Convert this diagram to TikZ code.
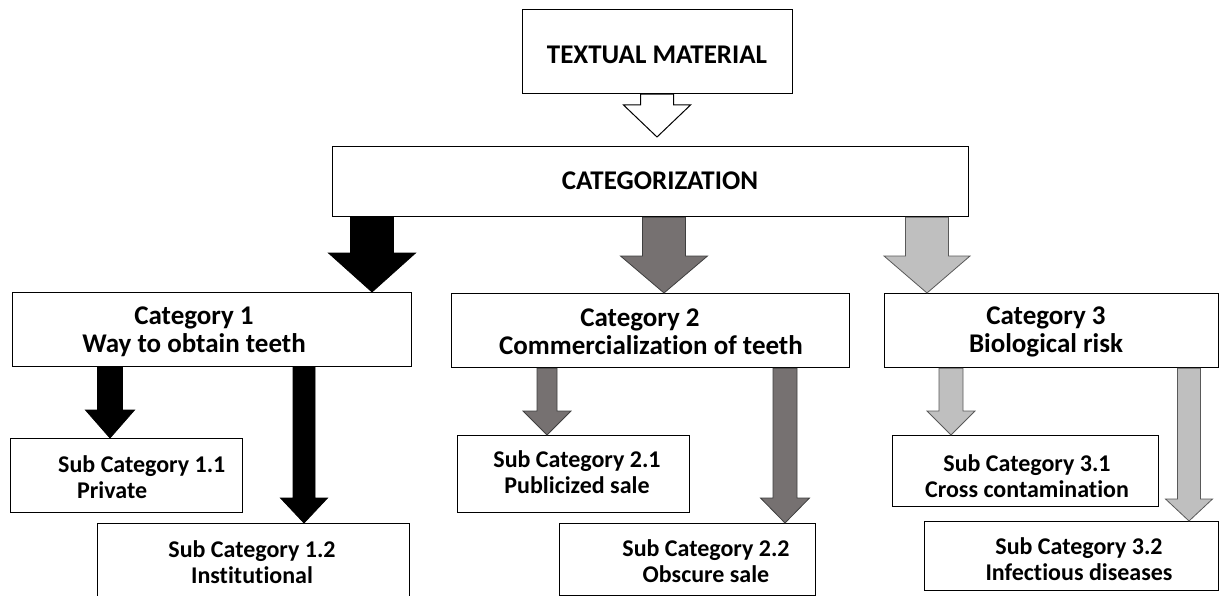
\documentclass[tikz,border=0pt]{standalone}
\usepackage{fontspec}
\setmainfont{Carlito}[Ligatures=NoCommon]
\usetikzlibrary{calc}
\definecolor{dgray}{HTML}{767171}
\definecolor{dgrayline}{HTML}{3F3F3F}
\definecolor{lgray}{HTML}{BFBFBF}
\definecolor{lgrayline}{HTML}{595959}
% block arrow: #1 style, #2 x (pt), #3 source point, #4 tip point, #5 shaft half, #6 head half, #7 head length
\newcommand{\blockarr}[7]{%
  \draw[#1] let \p1=(#2,0 |- #3), \p2=(#2,0 |- #4) in
    (\x1-#5pt,\y1) -- (\x1-#5pt,\y2+#7pt) -- (\x1-#6pt,\y2+#7pt) -- (\x2,\y2)
    -- (\x1+#6pt,\y2+#7pt) -- (\x1+#5pt,\y2+#7pt) -- (\x1+#5pt,\y1) -- cycle;}
\tikzset{
  box/.style={draw=black, line width=1.2pt, fill=white, rectangle, inner sep=0pt, anchor=north west},
  toptxt/.style={font=\bfseries\fontsize{27}{30}\selectfont, inner sep=0pt},
  cattxt/.style={font=\bfseries\fontsize{27}{28}\selectfont, align=center, inner sep=0pt},
  subtxt/.style={font=\bfseries\fontsize{24}{26.5}\selectfont, align=center, inner sep=0pt},
  blackarr/.style={fill=black, draw=black, line width=0.8pt, line join=miter},
  darkarr/.style={fill=dgray, draw=dgrayline, line width=0.8pt, line join=miter},
  lightarr/.style={fill=lgray, draw=lgrayline, line width=0.8pt, line join=miter},
  hollowarr/.style={fill=white, draw=black, line width=1pt, line join=miter},
}
\begin{document}
\begin{tikzpicture}[x=1pt, y=-1pt]
\useasboundingbox (0,0) rectangle (1220,596);
\begin{scope}
\clip (0,0) rectangle (1220,596);
% boxes
\node[box, minimum width=270pt, minimum height=84pt] (tm) at (522,9) {};
\node[box, minimum width=636pt, minimum height=70pt] (cz) at (332,146) {};
\node[box, minimum width=399pt, minimum height=74pt] (c1) at (12,292) {};
\node[box, minimum width=398pt, minimum height=74pt] (c2) at (451,293) {};
\node[box, minimum width=334pt, minimum height=74pt] (c3) at (884,293) {};
\node[box, minimum width=232pt, minimum height=74pt] (s11) at (10,438) {};
\node[box, minimum width=312pt, minimum height=90pt] (s12) at (97,523) {};
\node[box, minimum width=232pt, minimum height=77pt] (s21) at (457,435) {};
\node[box, minimum width=256pt, minimum height=72pt] (s22) at (559,523) {};
\node[box, minimum width=266pt, minimum height=71pt] (s31) at (892,435) {};
\node[box, minimum width=294pt, minimum height=69pt] (s32) at (924,521) {};
% texts
\node[toptxt] (tmt) at (657,55) {TEXTUAL MATERIAL};
\node[toptxt] (czt) at (660,181) {CATEGORIZATION};
\node[cattxt] (c1t) at (194,332) {Category 1\\Way to obtain teeth};
\node[cattxt] (c2t) at (651,332) {Category 2\hspace*{22pt}\\Commercialization of teeth};
\node[cattxt] (c3t) at (1046,332) {Category 3\\Biological risk};
\node[subtxt, align=left, anchor=west] (s11t) at (58,477) {Sub Category 1.1\\\hspace*{19pt}Private};
\node[subtxt] (s12t) at (252,562) {Sub Category 1.2\\Institutional};
\node[subtxt] (s21t) at (577,472) {Sub Category 2.1\\Publicized sale};
\node[subtxt] (s22t) at (706,561) {Sub Category 2.2\\Obscure sale};
\node[subtxt] (s31t) at (1027,476) {Sub Category 3.1\\Cross contamination};
\node[subtxt] (s32t) at (1079,559) {Sub Category 3.2\\Infectious diseases};
% arrows
\coordinate (tmtip) at (657,137);
\blockarr{hollowarr}{657}{tm.south}{tmtip}{16.5}{33.5}{32}
\blockarr{blackarr}{372}{cz.south}{c1.north}{21.5}{43.5}{39}
\blockarr{darkarr}{664}{cz.south}{c2.north}{21.5}{43.5}{37}
\blockarr{lightarr}{927}{cz.south}{c3.north}{21.5}{43}{37}
\blockarr{blackarr}{110}{c1.south}{s11.north}{12.5}{24.5}{28}
\blockarr{blackarr}{304}{c1.south}{s12.north}{11}{23.5}{25}
\blockarr{darkarr}{547}{c2.south}{s21.north}{10}{24}{24}
\blockarr{darkarr}{785}{c2.south}{s22.north}{12}{24.5}{25}
\blockarr{lightarr}{951}{c3.south}{s31.north}{12}{24}{24}
\blockarr{lightarr}{1189}{c3.south}{s32.north}{11.5}{23.5}{22}
\end{scope}
\end{tikzpicture}
\end{document}
